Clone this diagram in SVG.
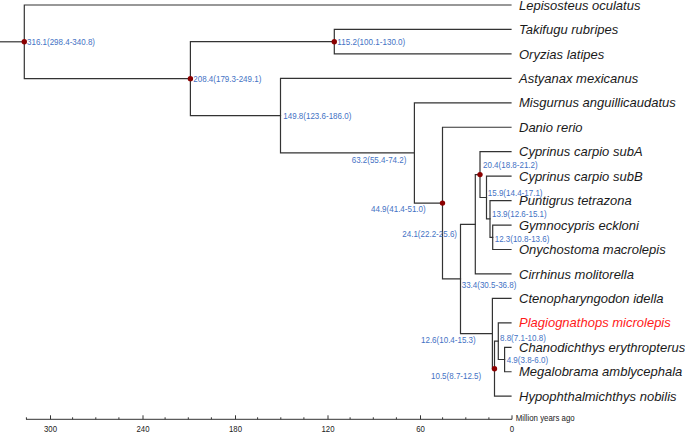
<svg xmlns="http://www.w3.org/2000/svg" width="685" height="432" viewBox="0 0 685 432">
<style>
.edge{stroke:#333;stroke-width:1.2;fill:none;stroke-linecap:square}
.tip{font-family:"Liberation Sans",Arial,sans-serif;font-style:italic;font-size:13px;fill:#1a1a1a}
.hl{fill:#ff1a1a}
.age{font-family:"Liberation Sans",Arial,sans-serif;font-size:9.2px;fill:#4472c4}
.dot{fill:#8b0000}
.axl{font-family:"Liberation Sans",Arial,sans-serif;font-size:9px;fill:#222}
.ax{stroke:#333;stroke-width:1;fill:none}
</style>
<rect width="685" height="432" fill="#fff"/>
<g id="connectors" class="edge">
<path d="M0 41.8H24.3"/>
<path d="M24.3 5V78.65M24.3 5H511M24.3 78.65H190.4"/>
<path d="M190.4 41.7V115.65M190.4 41.7H334.3M190.4 115.65H280.5"/>
<path d="M334.3 29.45V53.9M334.3 29.45H511M334.3 53.9H511"/>
<path d="M280.5 78.35V152.95M280.5 78.35H511M280.5 152.95H414.4"/>
<path d="M414.4 102.8V203.1M414.4 102.8H511M414.4 203.1H442.5"/>
<path d="M442.5 127.25V278.9M442.5 127.25H511M442.5 278.9H460.5"/>
<path d="M460.5 224.3V333.55M460.5 224.3H475.3M460.5 333.55H492.4"/>
<path d="M475.3 174.6V273.95M475.3 174.6H480M475.3 273.95H511"/>
<path d="M480 151.7V197.5M480 151.7H511M480 197.5H486.5"/>
<path d="M486.5 176.15V218.9M486.5 176.15H511M486.5 218.9H490"/>
<path d="M490 200.6V237.3M490 200.6H511M490 237.3H492.7"/>
<path d="M492.7 225.05V249.5M492.7 225.05H511M492.7 249.5H511"/>
<path d="M492.4 298.4V368.7M492.4 298.4H511M492.4 368.7H494.5"/>
<path d="M494.5 341.2V396.2M494.5 341.2H498.3M494.5 396.2H511"/>
<path d="M498.3 322.85V359.5M498.3 322.85H511M498.3 359.5H504.6"/>
<path d="M504.6 347.3V371.75M504.6 347.3H511M504.6 371.75H511"/>
</g>
<g id="tips" class="tip">
<g id="tip-lepisosteus"><text x="519" y="9.6">Lepisosteus oculatus</text></g>
<g id="tip-takifugu"><text x="519" y="34.05">Takifugu rubripes</text></g>
<g id="tip-oryzias"><text x="519" y="58.5">Oryzias latipes</text></g>
<g id="tip-astyanax"><text x="519" y="82.95">Astyanax mexicanus</text></g>
<g id="tip-misgurnus"><text x="519" y="107.4">Misgurnus anguillicaudatus</text></g>
<g id="tip-danio"><text x="519" y="131.85">Danio rerio</text></g>
<g id="tip-cyprA"><text x="519" y="156.3">Cyprinus carpio subA</text></g>
<g id="tip-cyprB"><text x="519" y="180.75">Cyprinus carpio subB</text></g>
<g id="tip-puntigrus"><text x="519" y="205.2">Puntigrus tetrazona</text></g>
<g id="tip-gymnocypris"><text x="519" y="229.65">Gymnocypris eckloni</text></g>
<g id="tip-onychostoma"><text x="519" y="254.1">Onychostoma macrolepis</text></g>
<g id="tip-cirrhinus"><text x="519" y="278.55">Cirrhinus molitorella</text></g>
<g id="tip-ctenopharyngodon"><text x="519" y="303">Ctenopharyngodon idella</text></g>
<g id="tip-plagiognathops"><text class="hl" x="519" y="327.45">Plagiognathops microlepis</text></g>
<g id="tip-chanodichthys"><text x="519" y="351.9">Chanodichthys erythropterus</text></g>
<g id="tip-megalobrama"><text x="519" y="376.35">Megalobrama amblycephala</text></g>
<g id="tip-hypophthalmichthys"><text x="519" y="400.8">Hypophthalmichthys nobilis</text></g>
</g>
<g id="internal-nodes" class="age">
<g id="n316"><circle class="dot" cx="24.3" cy="41.8" r="2.7"/><text x="27" y="45" textLength="68" lengthAdjust="spacingAndGlyphs">316.1(298.4-340.8)</text></g>
<g id="n208"><circle class="dot" cx="190.4" cy="78.65" r="2.7"/><text x="193.3" y="81.6" textLength="68" lengthAdjust="spacingAndGlyphs">208.4(179.3-249.1)</text></g>
<g id="n115"><circle class="dot" cx="334.3" cy="41.7" r="2.7"/><text x="337.3" y="45" textLength="68" lengthAdjust="spacingAndGlyphs">115.2(100.1-130.0)</text></g>
<g id="n149"><text x="283.3" y="118.8" textLength="68" lengthAdjust="spacingAndGlyphs">149.8(123.6-186.0)</text></g>
<g id="n63"><text x="351.7" y="163.4" textLength="54.7" lengthAdjust="spacingAndGlyphs">63.2(55.4-74.2)</text></g>
<g id="n44"><circle class="dot" cx="442.5" cy="203.1" r="2.7"/><text x="371" y="212" textLength="54.7" lengthAdjust="spacingAndGlyphs">44.9(41.4-51.0)</text></g>
<g id="n33"><text x="461.7" y="287.8" textLength="54.7" lengthAdjust="spacingAndGlyphs">33.4(30.5-36.8)</text></g>
<g id="n24"><text x="402.3" y="237.4" textLength="54.7" lengthAdjust="spacingAndGlyphs">24.1(22.2-25.6)</text></g>
<g id="n20"><circle class="dot" cx="480" cy="174.6" r="2.7"/><text x="483" y="168.3" textLength="54.7" lengthAdjust="spacingAndGlyphs">20.4(18.8-21.2)</text></g>
<g id="n15"><text x="487.8" y="195.6" textLength="54.7" lengthAdjust="spacingAndGlyphs">15.9(14.4-17.1)</text></g>
<g id="n13"><text x="492" y="216.6" textLength="54.7" lengthAdjust="spacingAndGlyphs">13.9(12.6-15.1)</text></g>
<g id="n12a"><text x="494.7" y="241.6" textLength="54.7" lengthAdjust="spacingAndGlyphs">12.3(10.8-13.6)</text></g>
<g id="n12b"><text x="421" y="343.4" textLength="54.7" lengthAdjust="spacingAndGlyphs">12.6(10.4-15.3)</text></g>
<g id="n10"><circle class="dot" cx="494.5" cy="368.7" r="2.7"/><text x="431" y="379.4" textLength="50.2" lengthAdjust="spacingAndGlyphs">10.5(8.7-12.5)</text></g>
<g id="n8"><text x="500" y="340.7" textLength="45.8" lengthAdjust="spacingAndGlyphs">8.8(7.1-10.8)</text></g>
<g id="n4"><text x="506.7" y="363.4" textLength="41.4" lengthAdjust="spacingAndGlyphs">4.9(3.8-6.0)</text></g>
</g>
<g id="axis">
<path class="ax" d="M26 419.3H512"/>
<path class="ax" d="M512 415.3V419.3M420.5 415.3V419.3M328 415.3V419.3M235.5 415.3V419.3M143 415.3V419.3M50.5 415.3V419.3"/>
<path class="ax" d="M488.9 417.3V419.3M465.8 417.3V419.3M442.6 417.3V419.3M396.4 417.3V419.3M373.3 417.3V419.3M350.1 417.3V419.3M303.9 417.3V419.3M280.8 417.3V419.3M257.6 417.3V419.3M211.4 417.3V419.3M188.3 417.3V419.3M165.1 417.3V419.3M118.9 417.3V419.3M95.8 417.3V419.3M72.6 417.3V419.3M26.4 417.3V419.3"/>
<g class="axl" text-anchor="middle">
<text x="50.5" y="431.8" textLength="13" lengthAdjust="spacingAndGlyphs">300</text>
<text x="143" y="431.8" textLength="13" lengthAdjust="spacingAndGlyphs">240</text>
<text x="235.5" y="431.8" textLength="13" lengthAdjust="spacingAndGlyphs">180</text>
<text x="328" y="431.8" textLength="13" lengthAdjust="spacingAndGlyphs">120</text>
<text x="420.5" y="431.8" textLength="8.7" lengthAdjust="spacingAndGlyphs">60</text>
<text x="512" y="431.8" textLength="4.4" lengthAdjust="spacingAndGlyphs">0</text>
</g>
<text class="axl" x="515.7" y="420.6" textLength="59" lengthAdjust="spacingAndGlyphs">Million years ago</text>
</g>
</svg>
